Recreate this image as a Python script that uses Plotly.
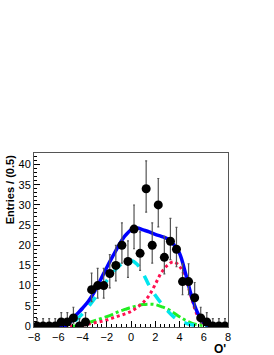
import math
import plotly.graph_objects as go

# ---- data: histogram (bin width 0.5) ----
bin_centers = [-7.75 + 0.5 * i for i in range(32)]
counts = [0, 0, 0, 0, 1, 1, 2, 0, 1, 9, 10, 10, 13, 15, 20, 16,
          24, 18, 34, 20, 30, 17, 21, 19, 11, 11, 7, 2, 1, 0, 0, 0]

# ---- fitted curves ----
curve_x = [-8, -7, -6, -5.5, -5, -4.5, -4, -3.5, -3, -2.5, -2, -1.5, -1, -0.5,
           0, 0.5, 1, 1.5, 2, 2.5, 3, 3.5, 4, 4.5, 5, 5.5, 6, 6.5, 7, 8]
total = [0, 0, 0, 0, 1.0, 2.8, 4.4, 6.2, 8.6, 11.5, 14.5, 17.3, 20.0, 22.3,
         23.8, 24.3, 23.8, 23.3, 22.7, 22.2, 21.6, 20.3, 18.0, 13.0, 7.3, 3.2, 0.8, 0.05, 0, 0]
comp_cyan = [0, 0, 0, 0, 0.7, 1.6, 3.0, 4.8, 6.8, 9.0, 11.2, 13.2, 14.8, 15.9,
             16.2, 15.3, 13.0, 10.0, 7.6, 5.6, 3.8, 2.3, 1.3, 0.7, 0.3, 0.1, 0, 0, 0, 0]
comp_red = [0, 0, 0, 0, 0, 0, 0.2, 0.5, 0.8, 1.1, 1.5, 2.0, 2.5, 3.0,
            3.6, 4.6, 5.8, 7.6, 10.3, 13.2, 15.0, 15.9, 14.8, 11.8, 6.8, 2.5, 0.6, 0.05, 0, 0]
comp_green = [0, 0, 0, 0, 0, 0, 0.3, 0.8, 1.3, 1.8, 2.3, 2.9, 3.6, 4.1,
              4.6, 5.0, 5.3, 5.4, 5.3, 4.8, 4.2, 3.3, 2.3, 1.4, 0.7, 0.3, 0.1, 0, 0, 0]

# ---- Poisson (Garwood) error bars ----
def pois_cdf(n, mu):
    s, term = 0.0, math.exp(-mu)
    for k in range(n + 1):
        if k > 0:
            term *= mu / k
        s += term
    return s

alpha = 0.158655
err_up, err_lo = [], []
for n in counts:
    a, b = float(n), n + 50.0
    for _ in range(80):
        m = 0.5 * (a + b)
        if pois_cdf(n, m) > alpha:
            a = m
        else:
            b = m
    err_up.append(0.5 * (a + b) - n)
    if n == 0:
        err_lo.append(0.0)
        continue
    a, b = 0.0, float(n)
    for _ in range(80):
        m = 0.5 * (a + b)
        if (1 - pois_cdf(n - 1, m)) < alpha:
            a = m
        else:
            b = m
    err_lo.append(n - 0.5 * (a + b))

fig = go.Figure()

fig.add_trace(go.Scatter(x=curve_x, y=comp_green, mode="lines",
                         line=dict(color="#22ee22", width=3, dash="dashdot", shape="spline"),
                         hoverinfo="skip"))
fig.add_trace(go.Scatter(x=curve_x, y=comp_red, mode="lines",
                         line=dict(color="#ff1050", width=3, dash="dot", shape="spline"),
                         hoverinfo="skip"))
fig.add_trace(go.Scatter(x=curve_x, y=comp_cyan, mode="lines",
                         line=dict(color="#00e5ee", width=3.5, dash="dash", shape="spline"),
                         hoverinfo="skip"))
fig.add_trace(go.Scatter(x=curve_x, y=total, mode="lines",
                         line=dict(color="#0000ff", width=3.5, shape="spline"),
                         hoverinfo="skip"))
fig.add_trace(go.Scatter(x=bin_centers, y=counts, mode="markers",
                         marker=dict(color="black", size=9),
                         error_y=dict(type="data", symmetric=False, array=err_up,
                                      arrayminus=err_lo, color="#555555",
                                      thickness=1.2, width=1)))

fig.update_layout(
    width=274, height=355,
    margin=dict(l=34, r=46, t=153, b=28),
    paper_bgcolor="white", plot_bgcolor="white",
    showlegend=False,
    font=dict(family="Liberation Sans, Arial, sans-serif", size=11, color="black"),
    xaxis=dict(range=[-8, 8], tickmode="linear", tick0=-8, dtick=2,
               ticks="inside", ticklen=6, tickcolor="black", tickwidth=1,
               minor=dict(ticks="inside", dtick=0.4, ticklen=3, tickcolor="black"),
               showgrid=False, zeroline=False, showline=True, linecolor="#555555",
               linewidth=1, mirror=True, tickfont=dict(size=11)),
    yaxis=dict(range=[-0.25, 42.85], tickmode="linear", tick0=0, dtick=5,
               ticks="inside", ticklen=6, tickcolor="black", tickwidth=1,
               minor=dict(ticks="inside", dtick=1, ticklen=3, tickcolor="black"),
               showgrid=False, zeroline=False, showline=True, linecolor="#555555",
               linewidth=1, mirror=True, tickfont=dict(size=11)),
    annotations=[
        dict(text="<b>Entries / (0.5)</b>", xref="paper", yref="paper",
             x=-0.125, y=1.0, xanchor="center", yanchor="top", textangle=-90,
             showarrow=False, font=dict(size=11)),
        dict(text="<b>O'</b>", xref="paper", yref="paper",
             x=1.0, y=-0.072, xanchor="right", yanchor="top",
             showarrow=False, font=dict(size=12)),
    ],
)

fig.write_html("out.html",
               config={"displayModeBar": False},
               post_script="document.body.style.margin='0';document.body.style.overflow='hidden';")
